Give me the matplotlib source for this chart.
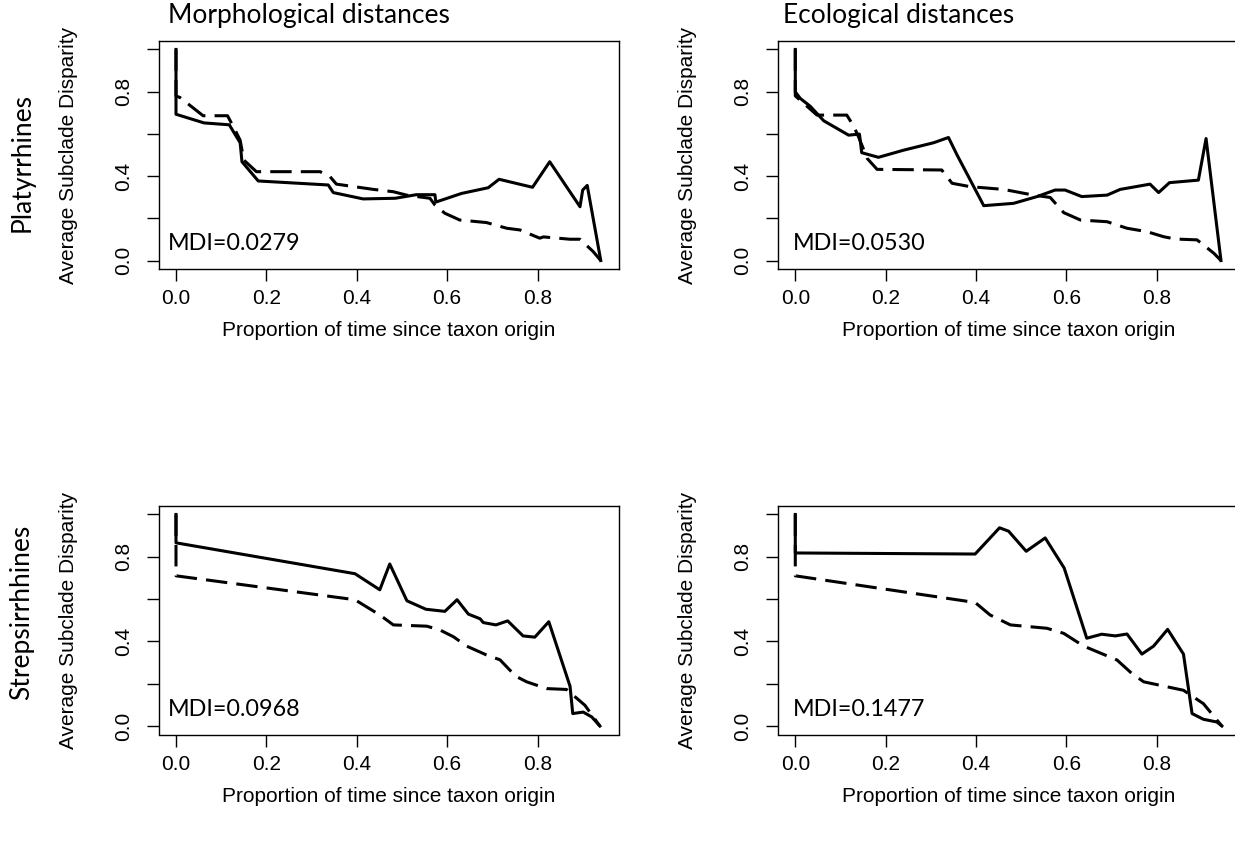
import matplotlib
matplotlib.use("Agg")
import matplotlib.pyplot as plt

# ---- data ----
# top-left: Platyrrhines, morphological
pm_obs_x = [0, 0, 0.062, 0.118, 0.134, 0.142, 0.146, 0.182, 0.337, 0.348, 0.414, 0.485, 0.532, 0.573, 0.575,
            0.632, 0.691, 0.715, 0.789, 0.827, 0.894, 0.900, 0.910, 0.940]
pm_obs_y = [1.0, 0.693, 0.652, 0.643, 0.586, 0.558, 0.468, 0.377, 0.358, 0.322, 0.292, 0.295, 0.312, 0.312, 0.277,
            0.318, 0.345, 0.385, 0.347, 0.468, 0.255, 0.334, 0.356, 0.0]
pm_null_x = [0, 0, 0.009, 0.060, 0.114, 0.127, 0.142, 0.150, 0.178, 0.319, 0.341, 0.355, 0.437, 0.481, 0.510,
             0.562, 0.573, 0.595, 0.628, 0.687, 0.732, 0.761, 0.805, 0.813, 0.872, 0.894, 0.923, 0.940]
pm_null_y = [1.0, 0.78, 0.772, 0.686, 0.686, 0.634, 0.570, 0.476, 0.421, 0.421, 0.397, 0.362, 0.337, 0.326, 0.310,
             0.295, 0.263, 0.224, 0.192, 0.180, 0.153, 0.145, 0.106, 0.112, 0.101, 0.101, 0.043, 0.0]

# top-right: Platyrrhines, ecological
pe_obs_x = [0, 0, 0.011, 0.033, 0.063, 0.118, 0.142, 0.147, 0.184, 0.240, 0.306, 0.339, 0.358, 0.417, 0.483,
            0.535, 0.575, 0.597, 0.634, 0.690, 0.719, 0.785, 0.804, 0.828, 0.892, 0.909, 0.942]
pe_obs_y = [1.0, 0.799, 0.768, 0.731, 0.662, 0.594, 0.599, 0.511, 0.489, 0.523, 0.558, 0.583, 0.500, 0.260, 0.271,
            0.303, 0.334, 0.334, 0.303, 0.310, 0.337, 0.362, 0.322, 0.369, 0.381, 0.578, 0.0]
pe_null_x = [0, 0, 0.048, 0.114, 0.129, 0.140, 0.159, 0.181, 0.324, 0.347, 0.387, 0.461, 0.527, 0.564, 0.594,
             0.631, 0.690, 0.734, 0.778, 0.815, 0.841, 0.889, 0.926, 0.942]
pe_null_y = [1.0, 0.78, 0.689, 0.689, 0.637, 0.586, 0.484, 0.432, 0.429, 0.366, 0.350, 0.337, 0.310, 0.299, 0.227,
             0.192, 0.184, 0.153, 0.137, 0.113, 0.102, 0.098, 0.035, 0.0]

# bottom-left: Strepsirrhines, morphological
sm_obs_x = [0, 0, 0.396, 0.451, 0.473, 0.511, 0.553, 0.595, 0.622, 0.647, 0.673, 0.680, 0.708, 0.734, 0.768,
            0.794, 0.825, 0.872, 0.878, 0.901, 0.920, 0.938]
sm_obs_y = [1.0, 0.866, 0.720, 0.644, 0.766, 0.592, 0.552, 0.542, 0.597, 0.529, 0.507, 0.489, 0.478, 0.497, 0.426,
            0.420, 0.493, 0.188, 0.059, 0.066, 0.043, 0.0]
sm_null_x = [0, 0, 0.396, 0.451, 0.481, 0.555, 0.584, 0.614, 0.643, 0.687, 0.717, 0.739, 0.754, 0.776, 0.820,
             0.864, 0.905, 0.938]
sm_null_y = [1.0, 0.710, 0.597, 0.525, 0.478, 0.472, 0.454, 0.422, 0.378, 0.336, 0.313, 0.264, 0.233, 0.209, 0.177,
             0.173, 0.098, 0.0]

# bottom-right: Strepsirrhines, ecological
se_obs_x = [0, 0, 0.398, 0.452, 0.472, 0.511, 0.553, 0.595, 0.645, 0.678, 0.708, 0.734, 0.767, 0.793, 0.824,
            0.859, 0.878, 0.903, 0.933, 0.944]
se_obs_y = [1.0, 0.818, 0.813, 0.937, 0.921, 0.826, 0.889, 0.747, 0.415, 0.434, 0.426, 0.435, 0.340, 0.378, 0.457,
            0.340, 0.059, 0.032, 0.019, 0.0]
se_null_x = [0, 0, 0.398, 0.431, 0.476, 0.557, 0.594, 0.638, 0.712, 0.745, 0.771, 0.859, 0.903, 0.944]
se_null_y = [1.0, 0.710, 0.584, 0.525, 0.478, 0.462, 0.438, 0.378, 0.312, 0.248, 0.209, 0.169, 0.106, 0.0]

mdi_labels = ["MDI=0.0279", "MDI=0.0530", "MDI=0.0968", "MDI=0.1477"]
col_titles = ["Morphological distances", "Ecological distances"]
row_labels = ["Platyrrhines", "Strepsirrhhines"]
yticks = [0, 0.2, 0.4, 0.6, 0.8, 1.0]
ytick_labels = ["0.0", "", "0.4", "", "0.8", ""]
xticks = [0, 0.2, 0.4, 0.6, 0.8]
xtick_labels = ["0.0", "0.2", "0.4", "0.6", "0.8"]

panels = [(pm_obs_x, pm_obs_y, pm_null_x, pm_null_y),
          (pe_obs_x, pe_obs_y, pe_null_x, pe_null_y),
          (sm_obs_x, sm_obs_y, sm_null_x, sm_null_y),
          (se_obs_x, se_obs_y, se_null_x, se_null_y)]

W, H = 1235, 842
fig = plt.figure(figsize=(W / 100, H / 100), dpi=100)

# axes boxes in pixels: left, top, right, bottom
boxes = [(159, 41, 619.3, 269), (778.3, 41, 1238.6, 269),
         (159, 506, 619.3, 734.5), (778.3, 506, 1238.6, 734.5)]

axfont = "Liberation Sans"
lblfont = "Lato"

for i, (ox, oy, nx, ny) in enumerate(panels):
    l, t, r, b = boxes[i]
    ax = fig.add_axes([l / W, 1 - b / H, (r - l) / W, (b - t) / H])
    ax.plot(nx, ny, color="black", lw=2.2, dashes=(7, 3), solid_capstyle="butt")
    ax.plot(ox, oy, color="black", lw=2.2)
    ax.set_xlim(-0.0376, 0.981)
    ax.set_ylim(-0.04, 1.04)
    ax.set_xticks(xticks)
    ax.set_xticklabels(xtick_labels, fontfamily=axfont, fontsize=15)
    ax.set_yticks(yticks)
    ax.set_yticklabels(ytick_labels, fontfamily=axfont, fontsize=15, rotation=90, va="center")
    ax.tick_params(length=8.6, width=1.0, color="black")
    ax.tick_params(axis="x", pad=6)
    ax.tick_params(axis="y", pad=10)
    for s in ax.spines.values():
        s.set_linewidth(1.0)
    ax.text(-0.197, 0.5, "Average Subclade Disparity", rotation=90, ha="center", va="center",
            transform=ax.transAxes, fontfamily=axfont, fontsize=15)
    ax.text(0.5, -0.27, "Proportion of time since taxon origin", ha="center", va="center",
            transform=ax.transAxes, fontfamily=axfont, fontsize=15)
    ax.text(0.02 + 0.012 * (i % 2), 0.11, mdi_labels[i], ha="left", va="center",
            transform=ax.transAxes, fontfamily=lblfont, fontsize=16.8)

fig.text(168 / W, 1 - 16 / H, col_titles[0], ha="left", va="center", fontfamily=lblfont, fontsize=19)
fig.text(783 / W, 1 - 16 / H, col_titles[1], ha="left", va="center", fontfamily=lblfont, fontsize=19)
fig.text(22 / W, 1 - 163 / H, row_labels[0], rotation=90, ha="center", va="center", fontfamily=lblfont, fontsize=19)
fig.text(22 / W, 1 - 612 / H, row_labels[1], rotation=90, ha="center", va="center", fontfamily=lblfont, fontsize=19)

fig.savefig("out.png", dpi=100)
